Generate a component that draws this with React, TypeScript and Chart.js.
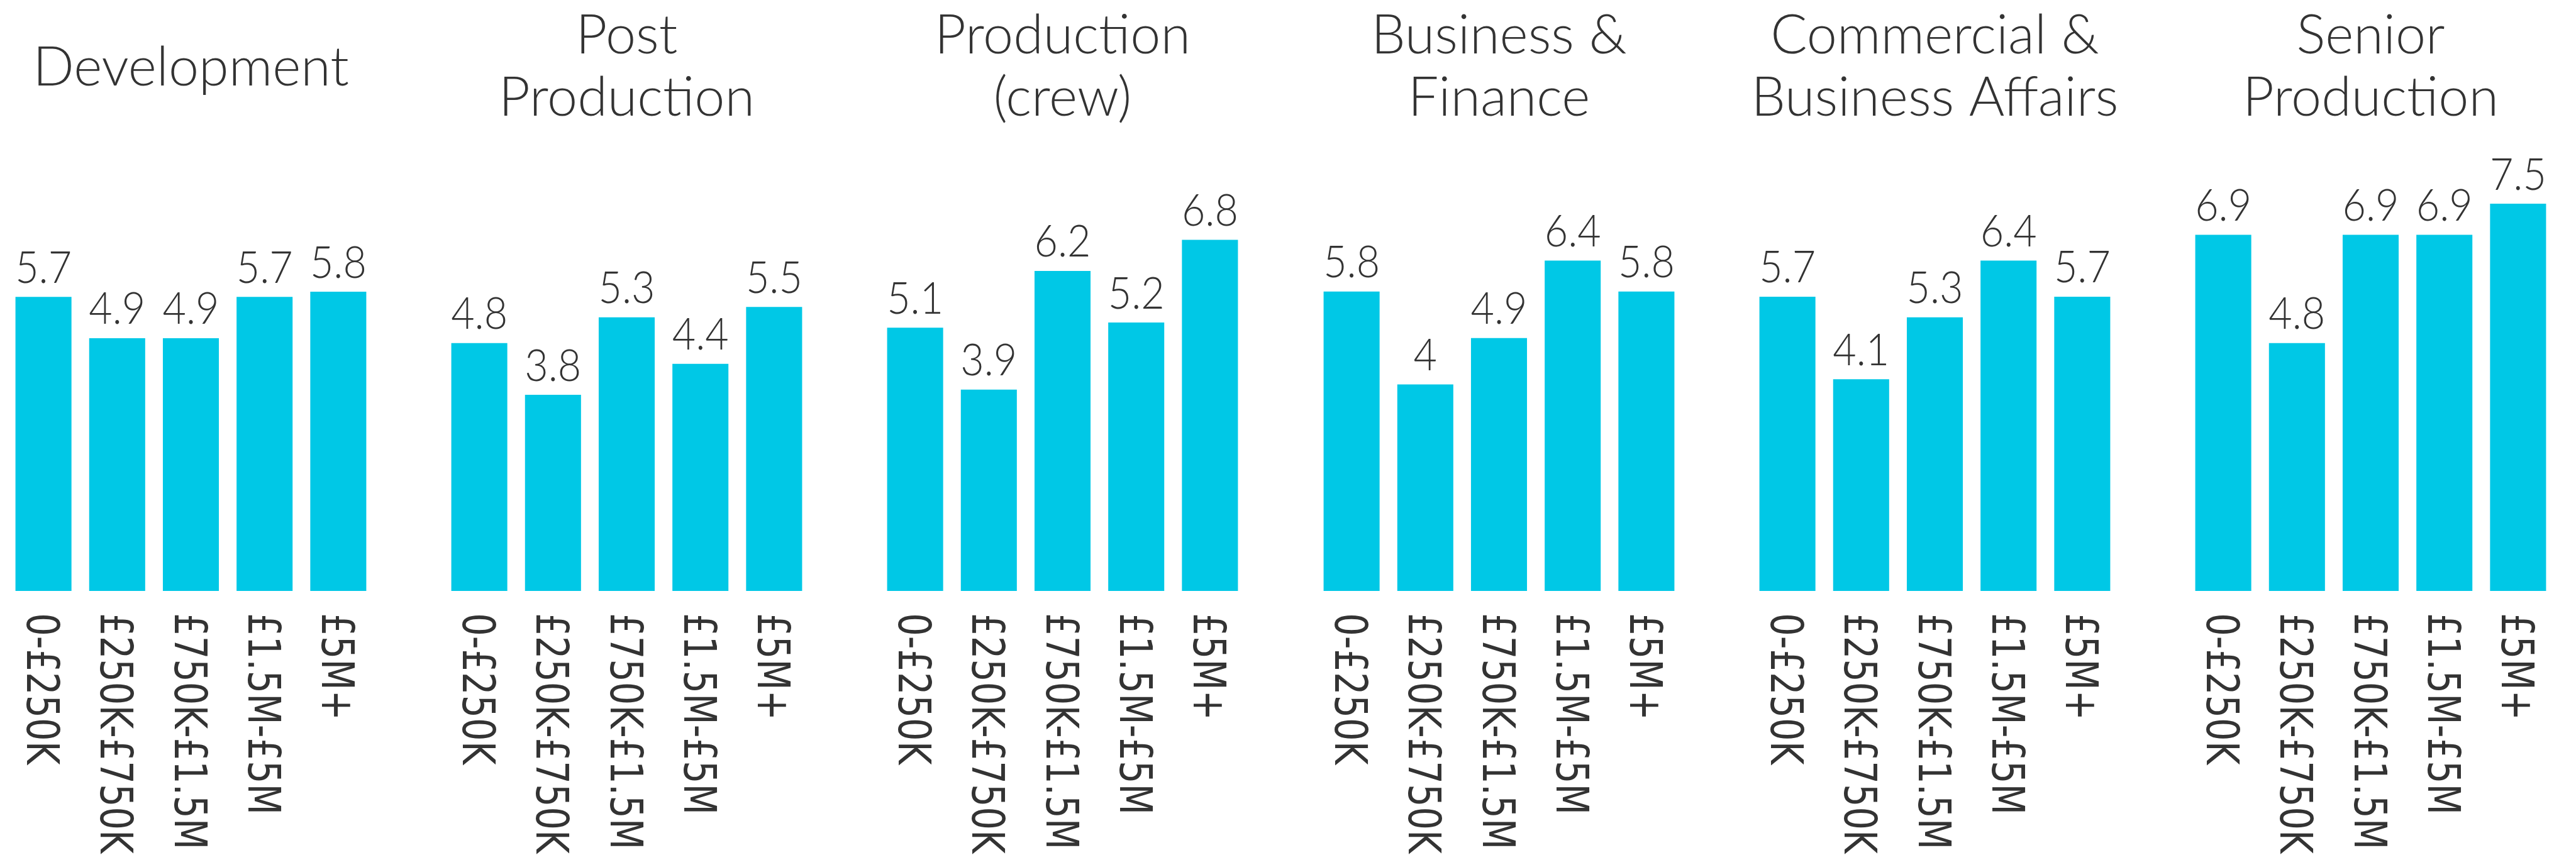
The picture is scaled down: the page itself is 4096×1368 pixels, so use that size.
import React, { useEffect, useRef } from 'react';
import { Chart, registerables } from 'chart.js';

Chart.register(...registerables);

// ---- data ----
const categories = ['0-£250K', '£250K-£750K', '£750K-£1.5M', '£1.5M-£5M', '£5M+'];
const panelTitles: string[][] = [
  ['Development'],
  ['Post', 'Production'],
  ['Production', '(crew)'],
  ['Business &', 'Finance'],
  ['Commercial &', 'Business Affairs'],
  ['Senior', 'Production'],
];
const development = [5.7, 4.9, 4.9, 5.7, 5.8];
const postProduction = [4.8, 3.8, 5.3, 4.4, 5.5];
const productionCrew = [5.1, 3.9, 6.2, 5.2, 6.8];
const businessFinance = [5.8, 4, 4.9, 6.4, 5.8];
const commercialAffairs = [5.7, 4.1, 5.3, 6.4, 5.7];
const seniorProduction = [6.9, 4.8, 6.9, 6.9, 7.5];
const panelValues = [development, postProduction, productionCrew, businessFinance, commercialAffairs, seniorProduction];
const yMin = 0;
const yMax = 8;

// ---- styling ----
const S = 0.976;
const BAR = '#00C8E6';
const TEXT = '#333333';
const PANEL_PITCH = 710.4;
const PAD_X = 20;
const CANVAS_W = 640;
const CANVAS_H = 1368;

const labelPlugin = {
  id: 'panelLabels',
  afterDatasetsDraw(chart: any) {
    const ctx: CanvasRenderingContext2D = chart.ctx;
    const meta = chart.getDatasetMeta(0);
    const data = chart.data.datasets[0].data as number[];
    ctx.save();
    ctx.fillStyle = TEXT;
    // value labels
    const vfs = 73.5 * S;
    ctx.font = `300 ${vfs}px Lato`;
    ctx.textAlign = 'center';
    ctx.textBaseline = 'alphabetic';
    meta.data.forEach((bar: any, i: number) => {
      ctx.save();
      ctx.translate(bar.x, bar.y - 23 * S);
      ctx.scale(0.9, 1);
      ctx.fillText(String(data[i]), 0, 0);
      ctx.restore();
    });
    // category labels, rotated clockwise
    const xs = chart.scales.x;
    const fs = 72.7 * S;
    ctx.font = `${fs}px "DejaVu Sans"`;
    ctx.textAlign = 'left';
    (chart.data.labels as string[]).forEach((lab, i) => {
      const x = xs.getPixelForValue(i);
      ctx.save();
      ctx.translate(x, chart.chartArea.bottom + 36 * S);
      ctx.rotate(Math.PI / 2);
      ctx.scale(0.81, 1);
      ctx.fillText(lab, 0, 0.3645 * fs);
      ctx.restore();
    });
    ctx.restore();
  },
};

function Panel({ title, values, left }: { title: string[]; values: number[]; left: number }) {
  const ref = useRef<HTMLCanvasElement | null>(null);
  useEffect(() => {
    if (!ref.current) return;
    const twoLines = title.length === 2;
    const chart = new Chart(ref.current, {
      type: 'bar',
      data: {
        labels: categories,
        datasets: [
          {
            data: values,
            backgroundColor: BAR,
            borderWidth: 0,
            barPercentage: 0.76,
            categoryPercentage: 1,
          },
        ],
      },
      options: {
        responsive: false,
        animation: false,
        events: [],
        layout: {
          padding: { left: PAD_X * S, right: PAD_X * S, top: 0, bottom: 438.5 * S },
        },
        plugins: {
          legend: { display: false },
          tooltip: { enabled: false },
          title: {
            display: true,
            text: title,
            color: TEXT,
            font: { family: 'Lato', size: 88.5 * S, lineHeight: 1.147, weight: 300 },
            padding: twoLines ? { top: 8 * S, bottom: 79 * S } : { top: 60 * S, bottom: 129 * S },
          },
        },
        scales: {
          x: { type: 'category', display: false },
          y: { display: false, min: yMin, max: yMax },
        },
      },
      plugins: [labelPlugin],
    } as any);
    return () => chart.destroy();
  }, [title, values]);
  return (
    <canvas
      ref={ref}
      width={Math.round(CANVAS_W * S)}
      height={CANVAS_H}
      style={{ position: 'absolute', left, top: 0 }}
    />
  );
}

export default function App() {
  return (
    <div
      style={{
        position: 'absolute',
        left: 0,
        top: 0,
        width: 4096,
        height: 1368,
        overflow: 'hidden',
        background: '#ffffff',
      }}
    >
      {panelTitles.map((t, i) => (
        <Panel
          key={i}
          title={t}
          values={panelValues[i]}
          left={Math.round((10.5 + PANEL_PITCH * i - PAD_X) * S)}
        />
      ))}
    </div>
  );
}
